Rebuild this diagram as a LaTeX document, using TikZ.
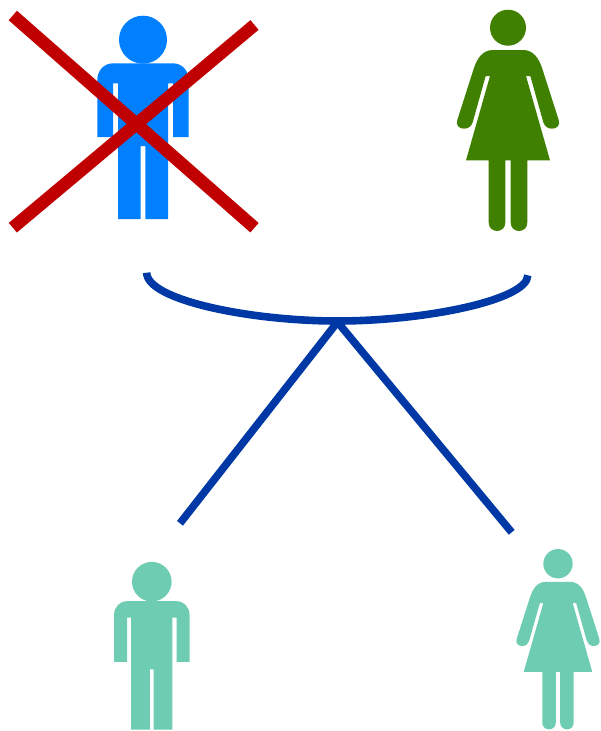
\documentclass[tikz,border=0pt]{standalone}
\definecolor{manblue}{HTML}{0080FF}
\definecolor{womangreen}{HTML}{408000}
\definecolor{childteal}{HTML}{6DCCB1}
\definecolor{crossred}{HTML}{C00000}
\definecolor{linkblue}{HTML}{0039A6}
\tikzset{
  man/.pic={
    \fill (0,0) circle[radius=24];
    \fill (-30,23.6) -- (30,23.6) .. controls (39,23.6) and (45.7,31) .. (45.7,40)
      -- (45.7,97.3) -- (30,97.3) -- (30,43.6) -- (25,43.6) -- (25,179.3) -- (2.3,179.3)
      -- (2.3,106.3) -- (-2.3,106.3) -- (-2.3,179.3) -- (-25,179.3) -- (-25,43.6) -- (-30,43.6)
      -- (-30,97.3) -- (-45.7,97.3) -- (-45.7,40) .. controls (-45.7,31) and (-39,23.6) .. (-30,23.6) -- cycle;
  },
  woman/.pic={
    \fill (0,0) circle[radius=18];
    \fill (-15,22.3) -- (15,22.3) .. controls (25,22.3) and (31,30) .. (34.7,42.3)
      -- (50.7,92.3) .. controls (52.5,98) and (48.5,101) .. (44,101)
      .. controls (39,101) and (36.5,98) .. (35.3,94.5)
      -- (22.3,48.3) -- (18,48.3) -- (42,132.6) -- (19.3,132.6) -- (19.3,195)
      .. controls (19.3,200) and (15.5,203.3) .. (11,203.3)
      .. controls (6.5,203.3) and (2.7,200) .. (2.7,195)
      -- (2.7,132.6) -- (-2.7,132.6) -- (-2.7,195)
      .. controls (-2.7,200) and (-6.5,203.3) .. (-11,203.3)
      .. controls (-15.5,203.3) and (-19.3,200) .. (-19.3,195)
      -- (-19.3,132.6) -- (-42,132.6) -- (-18,48.3) -- (-22.3,48.3)
      -- (-35.3,94.5) .. controls (-36.5,98) and (-39,101) .. (-44,101)
      .. controls (-48.5,101) and (-52.5,98) .. (-50.7,92.3)
      -- (-34.7,42.3) .. controls (-31,30) and (-25,22.3) .. (-15,22.3) -- cycle;
  },
  crossbar/.style={crossred,line width=12.6pt},
  link/.style={linkblue,line width=7.6pt}
}
\begin{document}
\begin{tikzpicture}[x=1pt,y=-1pt]
\useasboundingbox (0,0) rectangle (600,731);
\pic[fill=manblue] at (143,39.7) {man};
\pic[fill=womangreen] at (508,27.7) {woman};
\pic[fill=childteal,scale=.825] at (151.8,581.7) {man};
\pic[fill=childteal,scale=.815] at (558,563.7) {woman};
\coordinate (xa) at (12.8,15.5);
\coordinate (xb) at (254.5,227.7);
\coordinate (xc) at (254.5,25);
\coordinate (xd) at (12.8,227.7);
\draw[crossbar] (xa) -- (xb);
\draw[crossbar] (xc) -- (xd);
\coordinate (fatherend) at (146.7,272.7);
\coordinate (motherend) at (527.8,275.3);
\coordinate (apex) at (337.5,321);
\coordinate (sonend) at (180,523.3);
\coordinate (daughterend) at (511.7,532.3);
\draw[link] (fatherend) .. controls (146.7,300) and (250,321) .. (apex)
  .. controls (425,321) and (527.8,300) .. (motherend);
\draw[link] (apex) ++(0,1) -- (sonend);
\draw[link] (apex) ++(0,1) -- (daughterend);
\end{tikzpicture}
\end{document}
